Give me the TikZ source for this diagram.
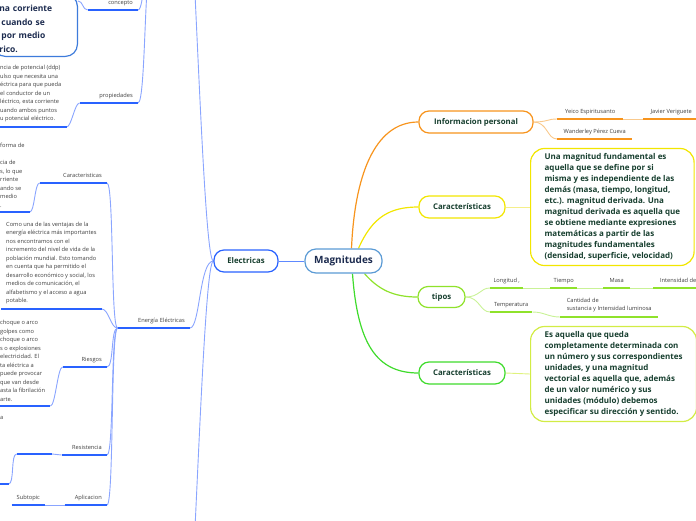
\documentclass[tikz,border=0pt]{standalone}
\usepackage{fontspec}
\setmainfont{Open Sans}
\usetikzlibrary{calc,backgrounds}

\definecolor{elecblue}{HTML}{2962FF}
\definecolor{eleclight}{HTML}{8AA5FF}
\definecolor{magblue}{HTML}{5B9BD5}
\definecolor{boxblue}{HTML}{3D7BDB}
\definecolor{orng}{HTML}{F7941D}
\definecolor{orngl}{HTML}{F9C98C}
\definecolor{ylw}{HTML}{F2E600}
\definecolor{ylwl}{HTML}{F5EF8A}
\definecolor{lime}{HTML}{8FE22B}
\definecolor{limel}{HTML}{C9F296}
\definecolor{grn}{HTML}{3FDB2C}
\definecolor{ylgrn}{HTML}{D2EC45}
\definecolor{txtgreen}{HTML}{173F2F}
\definecolor{txtnavy}{HTML}{1C2B4F}
\definecolor{txtgray}{HTML}{3F3F3F}

\newcommand\subfont{\fontsize{5.7}{8.5}\selectfont}
\newcommand\topfont{\bfseries\fontsize{7.8}{9}\selectfont}
\newcommand\magfont{\bfseries\fontsize{10}{12}\selectfont}
\newcommand\deffont{\bfseries\fontsize{8}{11}\selectfont}
\newcommand\bigfont{\bfseries\fontsize{8.5}{13.5}\selectfont}

\tikzset{
  topic/.style={draw=#1, line width=1.2pt, rounded corners=10pt, fill=white,
    text=txtgreen, font=\topfont, minimum height=22pt, inner sep=0pt},
  defbox/.style={draw=#1, line width=1.2pt, rounded corners=14pt, fill=white,
    text=txtgreen, font=\deffont, align=left, inner xsep=14pt, inner ysep=5pt},
  sub/.style={font=\subfont, text=txtgray, inner xsep=3pt, inner ysep=3.5pt,
    text depth=1.5pt,
    append after command={(\tikzlastnode.south west) edge[draw=#1, line width=1.2pt] (\tikzlastnode.south east)}},
  subr/.style={sub=#1, align=right, inner xsep=5pt},
  note/.style={font=\subfont, text=txtgray, align=left, inner xsep=5pt, inner ysep=4.5pt,
    append after command={(\tikzlastnode.south west) edge[draw=#1, line width=1.2pt] (\tikzlastnode.south east)}},
  link/.style={draw=#1, line width=0.9pt},
}

\begin{document}
\begin{tikzpicture}[x=1pt,y=-1pt]
\useasboundingbox (0,0) rectangle (696,520);
\clip (0,0) rectangle (696,520);

% centre and main branches
\node[topic=magblue, text=txtnavy, font=\magfont, minimum width=77pt, minimum height=24pt, rounded corners=11pt] (mag) at (343.5,261) {Magnitudes};
\node[topic=elecblue, minimum width=64pt] (elec) at (246,261) {Electricas};

\node[topic=orng, minimum width=114pt] (info) at (476,122) {Informacion personal};
\node[topic=ylw, minimum width=86pt] (car1) at (462,207) {Características};
\node[topic=lime, minimum width=47pt, minimum height=21pt] (tipos) at (441.5,297) {tipos};
\node[topic=grn, minimum width=86pt] (car2) at (462,373) {Características};

% right side
\node[defbox=ylw, anchor=west, minimum height=114pt] (def1) at (530,207) {Una magnitud fundamental es\\aquella que se define por si\\misma y es independiente de las\\demás (masa, tiempo, longitud,\\etc.). magnitud derivada. Una\\magnitud derivada es aquella que\\se obtiene mediante expresiones\\matemáticas a partir de las\\magnitudes fundamentales\\(densidad, superficie, velocidad)};
\node[defbox=ylgrn, anchor=west, minimum height=94pt] (def2) at (530,374) {Es aquella que queda\\completamente determinada con\\un número y sus correspondientes\\unidades, y una magnitud\\vectorial es aquella que, además\\de un valor numérico y sus\\unidades (módulo) debemos\\especificar su dirección y sentido.};

\node[sub=orng, minimum width=66pt, anchor=south west] (yeico) at (557,119) {Yeico Espiritusanto};
\node[sub=orng, minimum width=56pt, anchor=south west] (javier) at (643,119) {Javier Veriguete};
\node[sub=orng, minimum width=75pt, anchor=south west] (wander) at (557,139) {Wanderley Pérez Cueva};

\node[sub=lime, minimum width=33pt, anchor=south west] (longitud) at (490,288) {Longitud ,};
\node[sub=lime, minimum width=27pt, anchor=south west] (tiempo) at (550,288) {Tiempo};
\node[sub=lime, minimum width=27pt, anchor=south west] (masa) at (603,288) {Masa};
\node[sub=lime, minimum width=50pt, anchor=south west] (intens) at (653,288) {Intensidad de};
\node[sub=lime, minimum width=42pt, anchor=south west] (temper) at (490,312) {Temperatura};
\node[note=lime, minimum width=98pt, anchor=south west] (cantidad) at (560,317) {Cantidad de\\ sustancia y Intensidad luminosa};

% left side
\node[defbox=boxblue, font=\bigfont, text=txtnavy, text width=72pt, inner xsep=6pt, inner ysep=4pt, rounded corners=12pt, anchor=south east] (defn) at (78,57) {\mbox{}\\na corriente\\\hspace*{2pt}cuando se\\\hspace*{2pt}por medio\\rico.};
\node[subr=elecblue, text width=40pt, anchor=south east] (concepto) at (138,10) {concepto};
\node[subr=elecblue, text width=48pt, anchor=south east] (propiedades) at (138,103) {propiedades};
\node[note=elecblue, anchor=south west] (propnote) at (-5,127) {ncia de potencial (ddp)\\ulso que necesita una\\éctrica para que pueda\\el conductor de un\\léctrico, esta corriente\\uando ambos puntos\\u potencial eléctrico.};

\node[subr=elecblue, text width=62pt, anchor=south east] (energia) at (190,328) {Energía Eléctricas};
\node[subr=elecblue, text width=57pt, anchor=south east] (caract) at (107,183) {Caracteristicas};
\node[note=elecblue, anchor=south west] (carnote) at (-5,212) {forma de\\\mbox{}\\cia de\\s, lo que\\rriente\\ando se\\medio\\.};
\node[note=elecblue, anchor=south west] (comonote) at (1,309) {Como una de las ventajas de la\\energía eléctrica más importantes\\nos encontramos con el\\incremento del nivel de vida de la\\población mundial. Esto tomando\\en cuenta que ha permitido el\\desarrollo económico y social, los\\medios de comunicación, el\\alfabetismo y el acceso a agua\\potable.};
\node[subr=elecblue, text width=34pt, anchor=south east] (riesgos) at (107,367) {Riesgos};
\node[note=elecblue, anchor=south west] (riesnote) at (-5,406) {choque o arco\\golpes como\\choque o arco\\s o explosiones\\electricidad. El\\ta eléctrica a\\puede provocar\\que van desde\\asta la fibrilación\\arte.};
\node[subr=elecblue, text width=35pt, anchor=south east] (resist) at (107,455) {Resistencia};
\node[subr=elecblue, text width=25pt, anchor=south east] (resempty) at (52,454) {};
\node[note=elecblue, anchor=south west] (resnote) at (-5,484) {a\\\mbox{}\\\mbox{}\\\mbox{}\\\mbox{}\\\mbox{}\\\mbox{}\\\mbox{}};
\node[subr=elecblue, text width=32pt, anchor=south east] (aplic) at (107,505) {Aplicacion};
\node[sub=elecblue, text width=27pt, align=center, anchor=south east] (subtopic) at (45,505) {Subtopic};

% free ends of branches running off the page
\coordinate (elecup) at (180,-200);
\coordinate (elecdown) at (180,722);
\coordinate (concpar) at (152,-40);

\begin{scope}[on background layer]
% magnitudes
\draw[link=elecblue!75] (mag.west) -- (elec.east);
\draw[link=orng, line width=1.2pt] ([xshift=8pt]mag.north) .. controls +(3,-70) and +(-45,0) .. (info.west);
\draw[link=ylw, line width=1.2pt] ([xshift=15pt]mag.north) .. controls +(14,-32) and +(-28,0) .. (car1.west);
\draw[link=lime, line width=1.2pt] ([xshift=21pt]mag.south) .. controls +(14,16) and +(-24,0) .. (tipos.west);
\draw[link=grn, line width=1.2pt] ([xshift=9pt]mag.south) .. controls +(5,70) and +(-42,0) .. (car2.west);

% informacion personal
\draw[link=orngl] (info.east) .. controls +(14,0) and +(-10,0) .. (yeico.south west);
\draw[link=orngl] (info.east) .. controls +(14,0) and +(-10,0) .. (wander.south west);
\draw[link=orngl] (yeico.south east) -- (javier.south west);
\draw[link=ylwl] (car1.east) -- (def1.west);

% tipos
\draw[link=limel] (tipos.east) .. controls +(14,0) and +(-10,0) .. (longitud.south west);
\draw[link=limel] (tipos.east) .. controls +(14,0) and +(-10,0) .. (temper.south west);
\draw[link=limel] (longitud.south east) -- (tiempo.south west);
\draw[link=limel] (tiempo.south east) -- (masa.south west);
\draw[link=limel] (masa.south east) -- (intens.south west);
\draw[link=limel] (temper.south east) .. controls +(12,0) and +(-12,0) .. (cantidad.south west);
\draw[link=ylgrn!70] (car2.east) -- (def2.west);

% electricas
\draw[link=eleclight] (elec.west) .. controls +(-12,0) and +(12,0) .. (elecup);
\draw[link=eleclight] (elec.west) .. controls +(-12,0) and +(12,0) .. (elecdown);
\draw[link=eleclight] (elec.west) .. controls +(-14,0) and +(10,0) .. (energia.south east);
\draw[link=eleclight] ($(defn.east |- concepto.south)+(0,-9)$) .. controls +(5,0) and +(-5,0) .. (concepto.south west);
\draw[link=eleclight] (concepto.south east) .. controls +(6,0) and +(-8,0) .. (concpar);
\draw[link=eleclight] (propiedades.south east) .. controls +(8,0) and +(-8,0) .. (concpar);
\draw[link=eleclight] (propiedades.south west) .. controls +(-5,0) and +(5,0) .. (propnote.south east);

% energia electricas
\draw[link=eleclight] (energia.south west) .. controls +(-7,0) and +(7,0) .. (caract.south east);
\draw[link=eleclight] (energia.south west) .. controls +(-7,0) and +(7,0) .. (comonote.south east);
\draw[link=eleclight] (energia.south west) .. controls +(-7,0) and +(7,0) .. (riesgos.south east);
\draw[link=eleclight] (energia.south west) .. controls +(-7,0) and +(7,0) .. (resist.south east);
\draw[link=eleclight] (energia.south west) .. controls +(-7,0) and +(7,0) .. (aplic.south east);
\draw[link=eleclight] (caract.south west) .. controls +(-5,0) and +(5,0) .. (carnote.south east);
\draw[link=eleclight] (riesgos.south west) .. controls +(-5,0) and +(5,0) .. (riesnote.south east);
\draw[link=eleclight] (resist.south west) .. controls +(-4,0) and +(4,0) .. (resempty.south east);
\draw[link=eleclight] (resempty.south west) .. controls +(-6,0) and +(6,0) .. (resnote.south east);
\draw[link=eleclight] (aplic.south west) -- (subtopic.south east);
\end{scope}
\end{tikzpicture}
\end{document}
